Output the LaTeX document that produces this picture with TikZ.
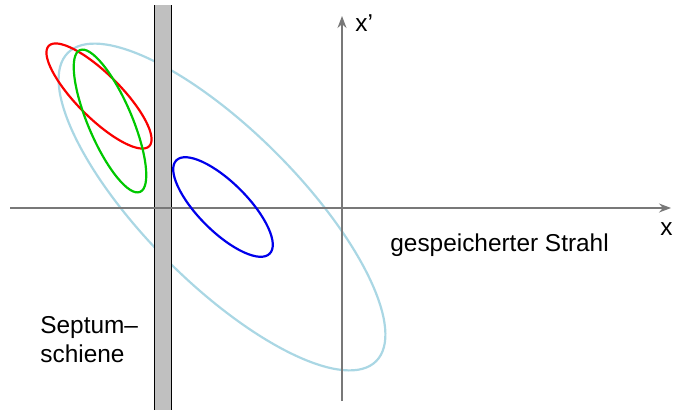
\documentclass[tikz,border=0pt]{standalone}
\usepackage{xcolor}
\usepackage{fontspec}
\setmainfont{Liberation Sans}
\usepackage{tikz}
\usetikzlibrary{arrows.meta, positioning}
\definecolor{beamred}{RGB}{250,0,0}
\definecolor{beamgreen}{RGB}{0,200,0}
\definecolor{beamblue}{RGB}{0,0,235}
\definecolor{accept}{RGB}{170,215,228}
\definecolor{axisgray}{RGB}{120,120,120}
\definecolor{septgray}{RGB}{192,192,192}
\tikzset{
  beam/.style={line width=1.1pt},
  axisline/.style={-{Stealth[length=6pt, width=4.5pt]}, color=axisgray, line width=0.6pt},
  septedge/.style={black, line width=0.6pt},
  lbl/.style={font=\fontsize{12.2}{14.5}\selectfont, inner sep=0pt}
}
\begin{document}
\begin{tikzpicture}[x=0.5pt, y=-0.5pt]
  \useasboundingbox (0,0) rectangle (673,412);

  % acceptance of the stored beam
  \draw[beam, accept] (222,207) ellipse [x radius=218, y radius=76.5, rotate=-45];

  % septum blade
  \fill[septgray] (154,5) rectangle (172,410);
  \draw[septedge] (154.5,5) -- (154.5,410);
  \draw[septedge] (171.5,5) -- (171.5,410);

  % axes
  \coordinate (xstart) at (10,208);
  \coordinate (xend) at (671,208);
  \coordinate (ystart) at (342,401);
  \coordinate (yend) at (342,16);
  \draw[axisline] (xstart) -- (xend);
  \draw[axisline] (ystart) -- (yend);
  \node[lbl, anchor=east] (xlab) at (673,229) {x};
  \node[lbl, anchor=west] (ylab) at (355,23) {x’};

  % beam ellipses
  \draw[beam, beamred] (99,96) ellipse [x radius=71, y radius=22, rotate=-45];
  \draw[beam, beamgreen] (110,121) ellipse [x radius=77, y radius=22, rotate=-67];
  \draw[beam, beamblue] (223,207) ellipse [x radius=66, y radius=24.5, rotate=-45];

  \node[lbl, anchor=west] (stored) at (390,245) {gespeicherter Strahl};
  \node[lbl, anchor=west, align=left] (septum) at (40,340) {Septum–\\schiene};
\end{tikzpicture}
\end{document}
